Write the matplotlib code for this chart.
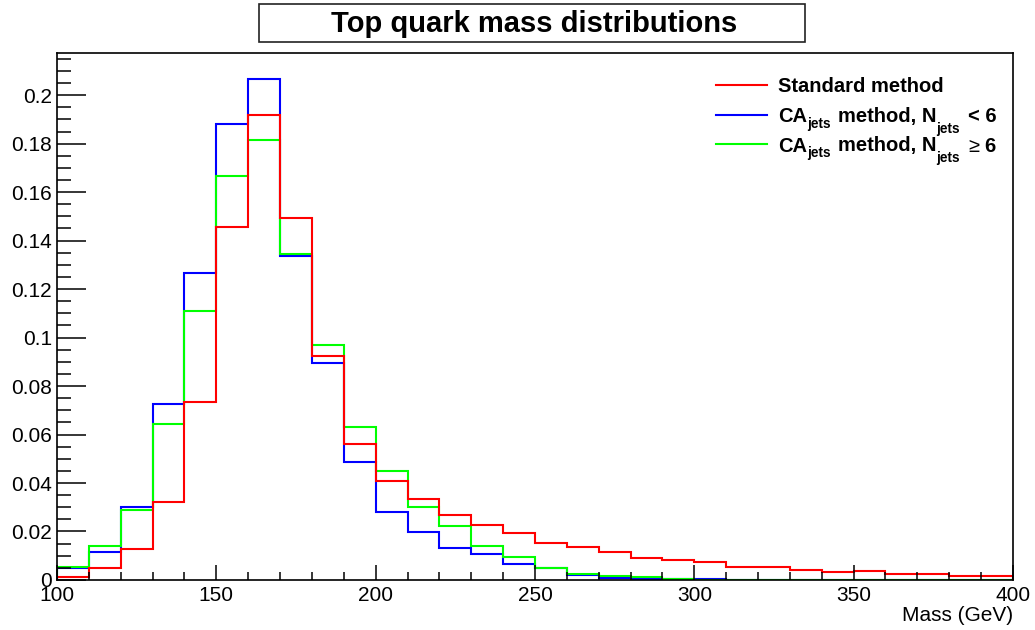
import numpy as np
import matplotlib
matplotlib.use("Agg")
import matplotlib.pyplot as plt
import matplotlib.ticker as ticker
from matplotlib.patches import Rectangle

plt.rcParams['font.family'] = ['Liberation Sans', 'DejaVu Sans']

W, H = 1035, 630

# 10 GeV bins from 100 to 400 GeV
bin_edges = np.arange(100, 401, 10)

standard = [0.0014, 0.0048, 0.0129, 0.0322, 0.0733, 0.1456, 0.1919, 0.1495, 0.0924, 0.0560,
            0.0410, 0.0334, 0.0267, 0.0228, 0.0195, 0.0151, 0.0137, 0.0116, 0.0092, 0.0081,
            0.0075, 0.0052, 0.0054, 0.0043, 0.0034, 0.0037, 0.0023, 0.0023, 0.0018, 0.0018]
ca_lt6 = [0.0048, 0.0114, 0.0300, 0.0725, 0.1266, 0.1881, 0.2067, 0.1338, 0.0894, 0.0488,
          0.0279, 0.0197, 0.0131, 0.0106, 0.0066, 0.0048, 0.0022, 0.0007, 0.0006, 0.0002,
          0.0006, 0.0, 0.0, 0.0, 0.0, 0.0, 0.0, 0.0, 0.0, 0.0]
ca_ge6 = [0.0052, 0.0140, 0.0290, 0.0644, 0.1108, 0.1666, 0.1815, 0.1345, 0.0971, 0.0631,
          0.0451, 0.0301, 0.0221, 0.0140, 0.0094, 0.0051, 0.0024, 0.0017, 0.0012, 0.0004,
          0.0001, 0.0, 0.0, 0.0, 0.0, 0.0, 0.0, 0.0, 0.0, 0.0]

colors = ['#ff0000', '#0000ff', '#00ff00']

# legend labels as (text, size, weight, drop below baseline in px, gap after in px)
legend_rows = [
    [('Standard method', 14.5, 'bold', 0, 0)],
    [('CA', 14.5, 'bold', 0, 0), ('jets', 9.8, 'bold', 6, 7),
     ('method, N', 14.5, 'bold', 0, 0), ('jets', 9.8, 'bold', 10.5, 8),
     ('< 6', 14.5, 'bold', 0, 0)],
    [('CA', 14.5, 'bold', 0, 0), ('jets', 9.8, 'bold', 6, 7),
     ('method, N', 14.5, 'bold', 0, 0), ('jets', 9.8, 'bold', 10.5, 9),
     ('≥', 14.5, 'normal', 0, 5), ('6', 14.5, 'bold', 0, 0)],
]

fig = plt.figure(figsize=(W / 100, H / 100), dpi=100)
ax = fig.add_axes([0.0551, 0.0794, 0.9236, 0.8365])

# blue and green first so the red histogram sits on top
ax.stairs(ca_lt6, bin_edges, color=colors[1], lw=1.5, baseline=0)
ax.stairs(ca_ge6, bin_edges, color=colors[2], lw=1.5, baseline=0)
ax.stairs(standard, bin_edges, color=colors[0], lw=1.5, baseline=0)

ax.set_xlim(100, 400)
ax.set_ylim(0, 0.2174)

ax.xaxis.set_major_locator(ticker.MultipleLocator(50))
ax.xaxis.set_minor_locator(ticker.MultipleLocator(10))
ax.yaxis.set_major_locator(ticker.MultipleLocator(0.02))
ax.yaxis.set_minor_locator(ticker.MultipleLocator(0.005))
ax.yaxis.set_major_formatter(ticker.FuncFormatter(lambda v, pos: '{:g}'.format(round(v, 4))))

ax.tick_params(axis='both', which='both', direction='in', width=1.1, labelsize=15,
               top=False, right=False)
ax.tick_params(axis='y', which='major', length=21, pad=3.6)
ax.tick_params(axis='y', which='minor', length=10.4)
ax.tick_params(axis='x', which='major', length=10.8, pad=4)
ax.tick_params(axis='x', which='minor', length=5.8)
for s in ax.spines.values():
    s.set_linewidth(1.2)

ax.set_xlabel('Mass (GeV)', fontsize=15, ha='right', va='top')
ax.xaxis.set_label_coords(1.0, -0.05)

# legend drawn by hand (no frame), pieces placed one after another
renderer = fig.canvas.get_renderer()
line_y = [85, 114.5, 144]
for y, pieces, c in zip(line_y, legend_rows, colors):
    fig.add_artist(plt.Line2D([716 / W, 767 / W], [1 - y / H, 1 - y / H], color=c, lw=1.5))
    x = 778
    base = y + 7.5
    for s, size, weight, drop, gap in pieces:
        t = fig.text(x / W, 1 - (base + drop) / H, s, fontsize=size, fontweight=weight,
                     ha='left', va='baseline')
        x = t.get_window_extent(renderer).x1 + gap

# title box
fig.patches.append(Rectangle((259 / W, 588.3 / H), 546 / W, 37.4 / H,
                             transform=fig.transFigure, facecolor='white',
                             edgecolor='#222222', lw=1.2))
fig.text(0.516, 0.950, 'Top quark mass distributions', fontsize=21, fontweight='bold',
         ha='center', va='baseline')

fig.savefig('out.png', dpi=100)
